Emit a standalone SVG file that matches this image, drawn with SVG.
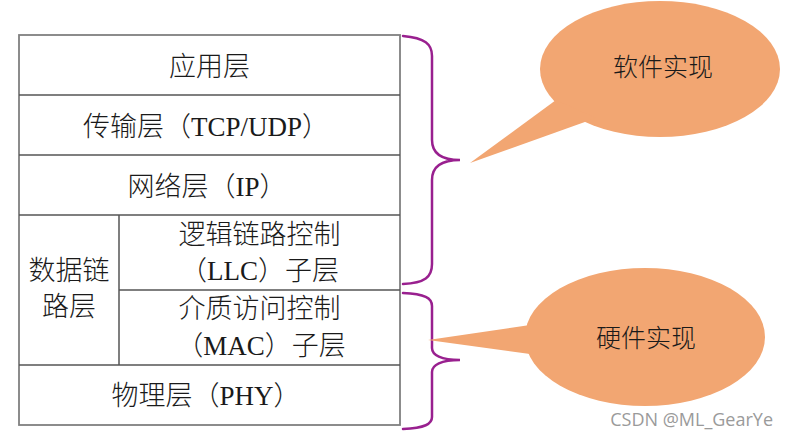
<svg xmlns="http://www.w3.org/2000/svg" width="788" height="440" viewBox="0 0 788 440">
<style>
.t{font-family:"Liberation Serif","Noto Sans CJK SC",serif;font-size:27px;font-weight:300;fill:#1a1a1a;text-anchor:middle}
.c{font-family:"Noto Sans CJK SC","Liberation Serif",sans-serif;font-size:25px;font-weight:300;fill:#1a1a1a;text-anchor:middle}
.ln{stroke:#555;stroke-width:1.5;fill:none}
.ol{stroke:#808080;stroke-width:1.8;fill:none}
.br{stroke:#99208f;stroke-width:2.5;fill:none;stroke-linecap:round}
.cl{fill:#f2a672;stroke:none}
</style>
<rect width="788" height="440" fill="#fff"/>
<g id="table">
<rect id="outer" class="ol" x="19" y="35" width="381" height="390"/>
<line class="ln" x1="19" y1="95" x2="400" y2="95"/>
<line class="ln" x1="19" y1="155" x2="400" y2="155"/>
<line class="ln" x1="19" y1="215" x2="400" y2="215"/>
<line class="ln" x1="119" y1="290" x2="400" y2="290"/>
<line class="ln" x1="19" y1="365" x2="400" y2="365"/>
<line class="ln" x1="119" y1="215" x2="119" y2="365"/>
</g>
<g id="app"><text class="t" x="209.5" y="76">应用层</text></g>
<g id="transport"><text class="t" x="206" y="136">传输层（TCP/UDP）</text></g>
<g id="network"><text class="t" x="207" y="196">网络层（IP）</text></g>
<g id="datalink"><text class="t" x="69" y="280">数据链</text><text class="t" x="69" y="316">路层</text></g>
<g id="llc"><text class="t" x="259.5" y="244">逻辑链路控制</text><text class="t" x="259.5" y="280">（LLC）子层</text></g>
<g id="mac"><text class="t" x="259.5" y="318">介质访问控制</text><text class="t" x="261" y="355">（MAC）子层</text></g>
<g id="phy"><text class="t" x="206" y="405">物理层（PHY）</text></g>
<g id="connectors">
<path class="br" d="M403,36 C425,38 432,44 432,56 L432,140 C432,153 441,160 460,160 C441,160 432,167 432,180 L432,264 C432,277 425,283 403,284"/>
<path class="br" d="M403,293 C425,294 432,298 432,306 L432,348 C432,355 441,360 460,360 C441,360 432,365 432,372 L432,417 C432,424 425,428 403,429"/>
</g>
<g id="software">
<ellipse class="cl" cx="660" cy="69" rx="120" ry="68"/>
<polygon class="cl" points="556,100 470,163 596,118"/>
<text class="c" x="663" y="76">软件实现</text>
</g>
<g id="hardware">
<ellipse class="cl" cx="645" cy="337" rx="120" ry="69"/>
<polygon class="cl" points="530,325 428,340 530,354"/>
<text class="c" x="646" y="347">硬件实现</text>
</g>
<text x="773" y="426" font-family="'Open Sans',sans-serif" font-size="18" fill="#9a9a9a" text-anchor="end">CSDN @ML_GearYe</text>
</svg>
